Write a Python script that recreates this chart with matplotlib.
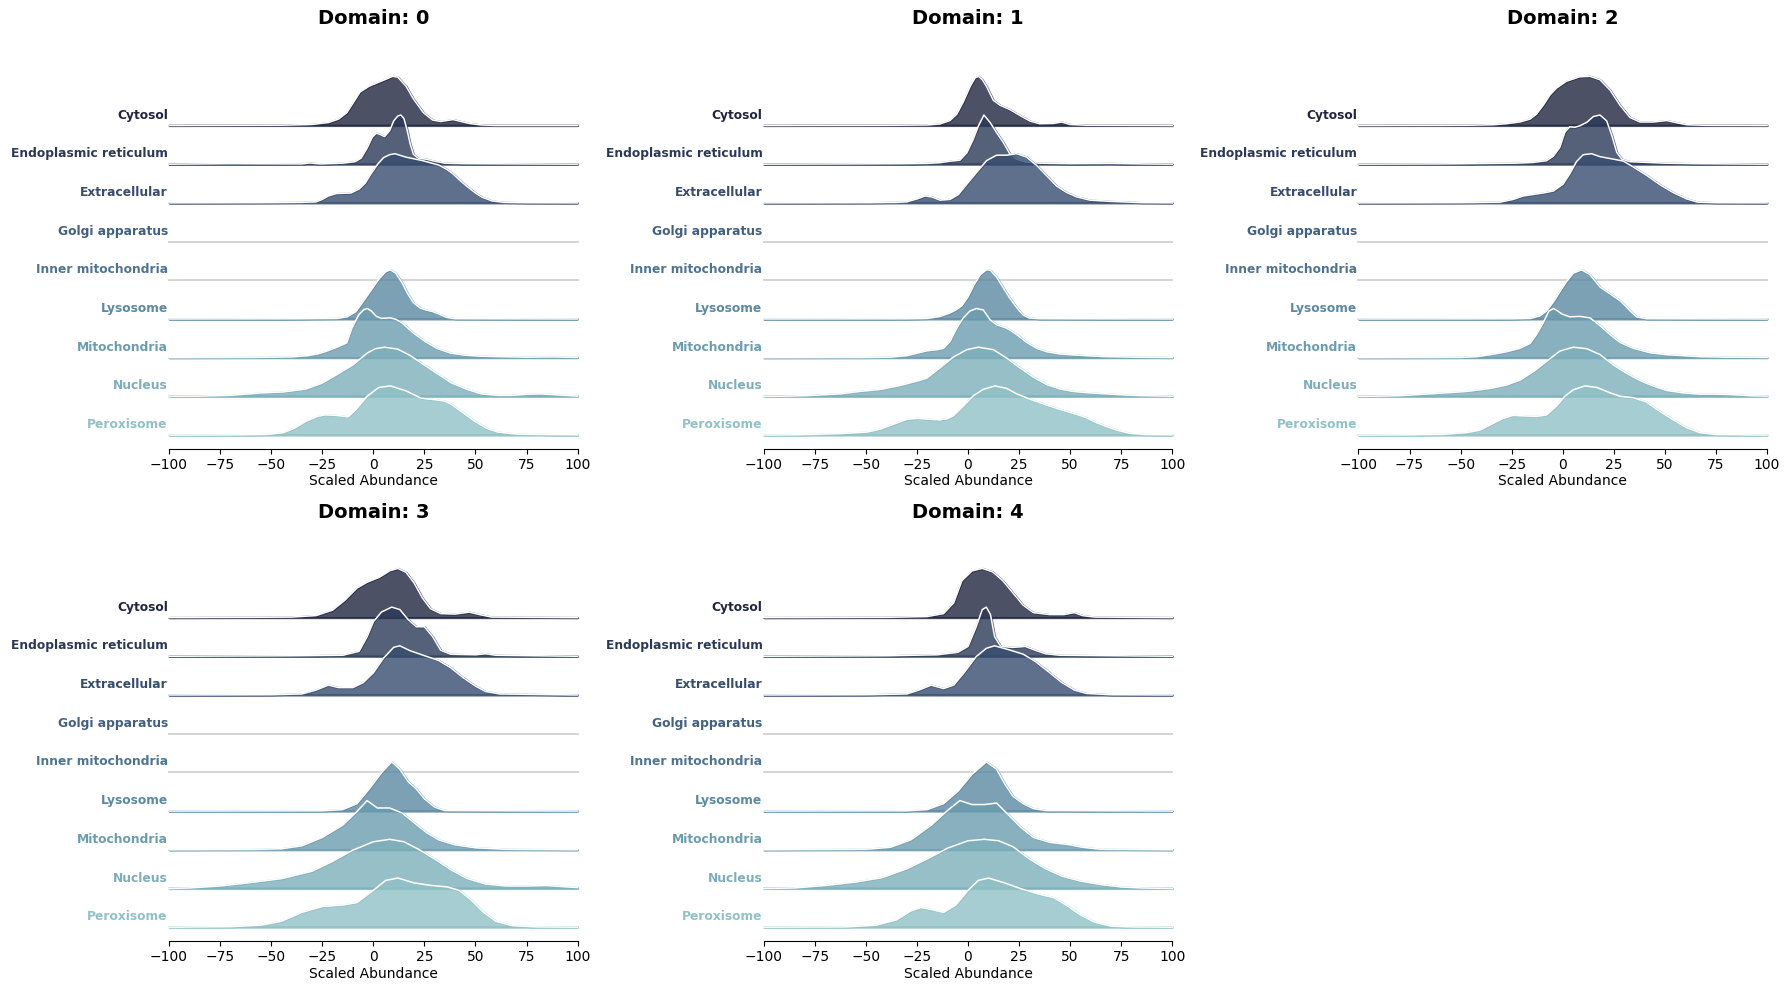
import matplotlib
matplotlib.use("Agg")
import matplotlib.pyplot as plt
import numpy as np
import seaborn as sns

# compartments, top to bottom
compartments = ["Cytosol", "Endoplasmic reticulum", "Extracellular", "Golgi apparatus",
                "Inner mitochondria", "Lysosome", "Mitochondria", "Nucleus", "Peroxisome"]
xticks = [-100, -75, -50, -25, 0, 25, 50, 75, 100]

# density curves: (scaled abundance, density relative to ridge max)
# Golgi apparatus and Inner mitochondria have no values in any domain

# Domain 0
d0_cytosol = [(-100, 0), (-45, 0.005), (-30, 0.02), (-22, 0.06), (-17, 0.13), (-13, 0.26), (-10, 0.45),
              (-6.5, 0.68), (-2, 0.8), (1.5, 0.86), (5, 0.92), (9.5, 1.0), (12, 0.98), (16, 0.8),
              (19.6, 0.54), (24.5, 0.26), (29, 0.11), (33, 0.08), (36, 0.1), (39, 0.12), (43, 0.08),
              (47, 0.04), (53, 0.01), (60, 0), (100, 0)]
d0_er = [(-100, 0), (-70, 0.01), (-35, 0.005), (-31, 0.025), (-26, 0.005), (-15, 0.02), (-9, 0.05),
         (-6, 0.12), (-3, 0.33), (-0.5, 0.55), (1.5, 0.63), (3.5, 0.6), (5.5, 0.56), (8, 0.68),
         (10, 0.88), (12, 0.98), (13.5, 1.0), (15, 0.93), (16.5, 0.7), (18, 0.42), (19.6, 0.2),
         (22, 0.12), (26, 0.1), (30, 0.06), (35, 0.02), (45, 0.01), (100, 0)]
d0_extra = [(-100, 0), (-50, 0.005), (-35, 0.01), (-28, 0.02), (-25, 0.07), (-22, 0.14), (-18, 0.19),
            (-11, 0.2), (-7, 0.28), (-4, 0.4), (-1, 0.6), (2, 0.78), (5, 0.92), (8, 0.98), (10.6, 1.0),
            (16, 0.93), (24, 0.86), (32, 0.77), (36, 0.68), (39, 0.59), (42, 0.47), (46, 0.33),
            (50, 0.2), (53, 0.12), (58, 0.04), (64, 0.01), (75, 0.003), (100, 0)]
d0_lyso = [(-100, 0), (-40, 0.003), (-18, 0.01), (-13, 0.04), (-8.5, 0.15), (-3, 0.47), (2.7, 0.81),
           (6, 0.96), (8.4, 1.0), (11, 0.93), (14, 0.74), (17, 0.5), (19.6, 0.33), (23, 0.22),
           (26, 0.18), (29, 0.15), (32, 0.1), (36, 0.03), (40, 0.005), (100, 0)]
d0_mito = [(-100, 0), (-60, 0.005), (-40, 0.015), (-32, 0.04), (-27, 0.08), (-23.6, 0.12), (-18, 0.21),
           (-13, 0.3), (-10.5, 0.6), (-7, 0.88), (-4.5, 0.98), (-2.9, 1.0), (-1, 0.95), (1.5, 0.84),
           (4, 0.8), (8.4, 0.81), (11, 0.78), (14, 0.71), (19.6, 0.5), (25.3, 0.33), (31, 0.19),
           (38, 0.09), (45, 0.05), (52, 0.03), (62, 0.02), (75, 0.01), (88, 0.015), (100, 0.005)]
d0_nucleus = [(-100, 0), (-85, 0.005), (-70, 0.02), (-55, 0.07), (-44, 0.09), (-33, 0.15), (-25, 0.27),
              (-18, 0.44), (-10, 0.64), (-3, 0.88), (1, 0.97), (5.5, 1.0), (12, 0.96), (17.7, 0.84),
              (23.4, 0.68), (31, 0.47), (38.4, 0.27), (46, 0.14), (53, 0.05), (61, 0.02), (68, 0.02),
              (76, 0.045), (82, 0.05), (90, 0.03), (100, 0.005)]
d0_perox = [(-100, 0), (-70, 0.003), (-55, 0.01), (-50, 0.02), (-44, 0.05), (-38.6, 0.14), (-33, 0.28),
            (-27.3, 0.38), (-23.6, 0.41), (-18, 0.4), (-12.3, 0.37), (-8.5, 0.52), (-3, 0.79),
            (2.7, 0.97), (8.4, 1.0), (16, 0.9), (23.4, 0.75), (30, 0.72), (35, 0.69), (38.4, 0.62),
            (44, 0.45), (49.7, 0.28), (55.3, 0.14), (61, 0.06), (70, 0.02), (87, 0.01), (100, 0.005)]

# Domain 1
d1_cytosol = [(-100, 0), (-40, 0.003), (-20, 0.01), (-13.7, 0.03), (-8.8, 0.1), (-5.5, 0.23), (-2.3, 0.48),
              (1, 0.79), (3.5, 0.97), (5.1, 1.0), (7, 0.93), (9.1, 0.79), (12.4, 0.51), (15.7, 0.41),
              (20.6, 0.32), (25.5, 0.2), (30.3, 0.09), (35, 0.035), (41.8, 0.04), (45.8, 0.07),
              (49.9, 0.02), (58, 0.005), (100, 0)]
d1_er = [(-100, 0), (-60, 0.005), (-30, 0.01), (-20, 0.015), (-13.7, 0.03), (-8.8, 0.06), (-4, 0.08),
         (-0.6, 0.23), (2.6, 0.51), (5.1, 0.78), (7.8, 1.0), (10.8, 0.85), (14, 0.64), (17.3, 0.44),
         (20.6, 0.2), (23.8, 0.1), (28.7, 0.04), (35, 0.02), (50, 0.01), (70, 0.015), (85, 0.005), (100, 0)]
d1_extra = [(-100, 0), (-50, 0.003), (-35, 0.01), (-30, 0.02), (-25, 0.08), (-21, 0.14), (-17.8, 0.12),
            (-13.7, 0.055), (-8.8, 0.07), (-4.7, 0.17), (-0.6, 0.38), (4.2, 0.62), (9.1, 0.86), (14, 0.97),
            (19, 0.97), (23.8, 1.0), (28.7, 0.93), (33.6, 0.76), (38.5, 0.55), (43.4, 0.34), (48.3, 0.21),
            (53.2, 0.12), (59.7, 0.055), (69.5, 0.03), (76, 0.02), (85, 0.005), (100, 0)]
d1_lyso = [(-100, 0), (-30, 0.003), (-20, 0.01), (-13.7, 0.05), (-9, 0.12), (-6, 0.18), (-3, 0.27),
           (0, 0.45), (3, 0.7), (6, 0.9), (9, 1.0), (11, 0.99), (14, 0.85), (17, 0.65), (20, 0.45),
           (22.2, 0.32), (25, 0.17), (27, 0.08), (30, 0.02), (35, 0.005), (100, 0)]
d1_mito = [(-100, 0), (-50, 0.003), (-38, 0.01), (-30, 0.04), (-25, 0.09), (-20, 0.14), (-15.3, 0.16),
           (-12, 0.19), (-8.8, 0.33), (-5.5, 0.6), (-2.3, 0.81), (1, 0.95), (4.2, 1.0), (7.5, 0.97),
           (10.8, 0.77), (14, 0.67), (18.9, 0.6), (23.8, 0.47), (28.7, 0.31), (33.6, 0.19), (38.5, 0.12),
           (45, 0.075), (51.5, 0.055), (60, 0.035), (68, 0.02), (85, 0.008), (100, 0.003)]
d1_nucleus = [(-100, 0), (-90, 0.003), (-79, 0.015), (-62.6, 0.05), (-53, 0.1), (-43, 0.14), (-33.3, 0.22),
              (-25, 0.31), (-20.2, 0.37), (-13.7, 0.58), (-7.2, 0.8), (-0.6, 0.95), (5.1, 1.0), (12.4, 0.95),
              (18.9, 0.78), (25.4, 0.58), (32, 0.39), (38.5, 0.24), (45, 0.15), (51.5, 0.1), (59.7, 0.07),
              (68, 0.05), (76, 0.03), (84, 0.015), (100, 0.003)]
d1_perox = [(-100, 0), (-85, 0.005), (-79, 0.01), (-62.6, 0.03), (-49.6, 0.06), (-43, 0.12), (-36.5, 0.22),
            (-30, 0.32), (-25, 0.34), (-18.6, 0.32), (-13.7, 0.31), (-10.4, 0.33), (-7.2, 0.39), (-2.3, 0.59),
            (2.6, 0.8), (7.5, 0.93), (13.2, 1.0), (18.9, 0.95), (23.8, 0.84), (30.3, 0.73), (38.5, 0.61),
            (46.7, 0.5), (53.2, 0.42), (58, 0.35), (63, 0.25), (68, 0.17), (72.8, 0.1), (79.3, 0.035),
            (87, 0.01), (100, 0.005)]

# Domain 2
d2_cytosol = [(-100, 0), (-60, 0.002), (-45, 0.005), (-34, 0.015), (-27.6, 0.035), (-21, 0.07), (-16, 0.13),
              (-12.9, 0.23), (-9.6, 0.41), (-6.3, 0.62), (-3.1, 0.76), (1.8, 0.9), (8.3, 0.99), (13.3, 1.0),
              (18.2, 0.93), (23.1, 0.72), (28, 0.41), (32.9, 0.16), (37.8, 0.07), (44.3, 0.07), (50.8, 0.1),
              (55.7, 0.055), (60.6, 0.015), (70, 0.003), (100, 0)]
d2_er = [(-100, 0), (-60, 0.005), (-47, 0.01), (-22.7, 0.02), (-14.5, 0.035), (-8, 0.07), (-4.7, 0.16),
         (-1.5, 0.34), (1, 0.65), (3.4, 0.76), (5.9, 0.75), (8.3, 0.78), (11.7, 0.85), (15, 0.97),
         (18.2, 1.0), (21.5, 0.88), (24, 0.58), (26.4, 0.24), (28.9, 0.1), (33, 0.05), (50, 0.02),
         (65, 0.01), (100, 0)]
d2_extra = [(-100, 0), (-60, 0.003), (-47, 0.005), (-30.8, 0.014), (-24.3, 0.07), (-19.4, 0.14),
            (-14.5, 0.17), (-9.6, 0.2), (-4.7, 0.24), (0.1, 0.38), (3.4, 0.59), (6.7, 0.84), (10, 0.98),
            (14.1, 1.0), (18.2, 0.94), (24.7, 0.89), (29.6, 0.85), (34.5, 0.73), (41, 0.56), (47.5, 0.37),
            (54, 0.21), (60.6, 0.08), (66, 0.015), (75, 0.003), (100, 0)]
d2_lyso = [(-100, 0), (-25, 0.003), (-16, 0.01), (-11.3, 0.06), (-8, 0.16), (-4.7, 0.34), (-1.5, 0.55),
           (1.8, 0.76), (5.1, 0.93), (9.2, 1.0), (13.3, 0.9), (18.2, 0.65), (23.1, 0.51), (28, 0.37),
           (30.5, 0.27), (33, 0.16), (36.2, 0.04), (41, 0.005), (100, 0)]
d2_mito = [(-100, 0), (-60, 0.003), (-50, 0.005), (-42, 0.02), (-34, 0.07), (-27.6, 0.12), (-21, 0.19),
           (-16, 0.29), (-12.9, 0.47), (-9.6, 0.71), (-6.8, 0.95), (-4.5, 1.0), (-2.5, 0.95), (-0.5, 0.89),
           (3.4, 0.83), (8.3, 0.84), (13.3, 0.81), (18.2, 0.65), (23.1, 0.47), (28, 0.31), (34.5, 0.19),
           (42.7, 0.1), (50.8, 0.06), (59, 0.04), (67, 0.02), (80, 0.01), (100, 0.005)]
d2_nucleus = [(-100, 0), (-90, 0.004), (-79.7, 0.014), (-63.4, 0.055), (-47, 0.1), (-35.6, 0.16),
              (-27.6, 0.23), (-21, 0.33), (-14.5, 0.5), (-8, 0.71), (-1.5, 0.92), (5.1, 1.0), (11.7, 0.97),
              (18.2, 0.85), (24.7, 0.64), (31.2, 0.47), (37.8, 0.32), (44.3, 0.21), (50.8, 0.12), (59, 0.07),
              (67, 0.045), (75, 0.045), (83, 0.035), (92, 0.012), (100, 0.004)]
d2_perox = [(-100, 0), (-75, 0.004), (-58.5, 0.014), (-47, 0.05), (-40.6, 0.1), (-34, 0.24), (-29.2, 0.34),
            (-24.3, 0.4), (-19.4, 0.39), (-12.9, 0.38), (-8, 0.41), (-3.1, 0.59), (1, 0.79), (5.1, 0.92),
            (10.8, 1.0), (16.6, 0.97), (23.1, 0.86), (28, 0.79), (34.5, 0.76), (41, 0.67), (47.5, 0.48),
            (54, 0.31), (60.6, 0.15), (67, 0.05), (75, 0.012), (90, 0.003), (100, 0)]

# Domain 3
d3_cytosol = [(-100, 0), (-60, 0.005), (-40, 0.01), (-28, 0.04), (-20, 0.15), (-14, 0.35), (-8, 0.6),
              (-3, 0.72), (3, 0.82), (8, 0.95), (12, 1.0), (16, 0.92), (20, 0.7), (24, 0.4), (28, 0.18),
              (33, 0.08), (40, 0.07), (47, 0.11), (52, 0.06), (58, 0.01), (100, 0)]
d3_er = [(-100, 0), (-40, 0.01), (-15, 0.02), (-7, 0.1), (-3, 0.4), (0, 0.7), (4, 0.9), (9, 1.0),
         (13, 0.95), (17, 0.75), (21, 0.6), (25, 0.6), (29, 0.4), (33, 0.12), (38, 0.04), (50, 0.03),
         (55, 0.05), (60, 0.02), (100, 0)]
d3_extra = [(-100, 0), (-50, 0.005), (-35, 0.02), (-28, 0.1), (-22, 0.2), (-17, 0.15), (-10, 0.15),
            (-5, 0.25), (0, 0.45), (5, 0.75), (10, 0.97), (13, 1.0), (18, 0.9), (25, 0.8), (32, 0.7),
            (38, 0.55), (44, 0.35), (50, 0.18), (55, 0.07), (62, 0.02), (100, 0)]
d3_lyso = [(-100, 0), (-25, 0.005), (-15, 0.03), (-8, 0.15), (-2, 0.45), (4, 0.78), (9, 1.0), (13, 0.85),
           (17, 0.6), (21, 0.45), (25, 0.25), (30, 0.08), (35, 0.01), (100, 0)]
d3_mito = [(-100, 0), (-60, 0.005), (-45, 0.02), (-35, 0.08), (-25, 0.25), (-15, 0.5), (-8, 0.78),
           (-3, 1.0), (2, 0.85), (8, 0.85), (14, 0.75), (20, 0.55), (26, 0.35), (32, 0.2), (40, 0.1),
           (50, 0.04), (65, 0.01), (100, 0)]
d3_nucleus = [(-100, 0), (-90, 0.01), (-75, 0.05), (-60, 0.12), (-45, 0.2), (-30, 0.35), (-20, 0.55),
              (-10, 0.78), (0, 0.95), (8, 1.0), (15, 0.95), (22, 0.8), (30, 0.6), (38, 0.38), (46, 0.2),
              (55, 0.09), (65, 0.05), (75, 0.05), (85, 0.06), (95, 0.03), (100, 0.02)]
d3_perox = [(-100, 0), (-70, 0.01), (-55, 0.04), (-45, 0.12), (-35, 0.3), (-25, 0.42), (-15, 0.45),
            (-8, 0.5), (0, 0.75), (6, 0.95), (12, 1.0), (20, 0.9), (28, 0.85), (36, 0.82), (42, 0.75),
            (48, 0.55), (54, 0.3), (60, 0.12), (68, 0.03), (80, 0.005), (100, 0)]

# Domain 4
d4_cytosol = [(-100, 0), (-40, 0.005), (-20, 0.02), (-12, 0.08), (-7, 0.3), (-3, 0.75), (2, 0.95),
              (7, 1.0), (12, 0.93), (17, 0.75), (22, 0.5), (27, 0.25), (32, 0.1), (40, 0.06), (47, 0.06),
              (52, 0.1), (56, 0.04), (62, 0.01), (100, 0)]
d4_er = [(-100, 0), (-40, 0.01), (-15, 0.03), (-5, 0.08), (0, 0.2), (4, 0.6), (7, 0.95), (9, 1.0),
         (11, 0.85), (13, 0.4), (16, 0.2), (22, 0.18), (28, 0.2), (33, 0.12), (38, 0.05), (45, 0.02), (100, 0)]
d4_extra = [(-100, 0), (-50, 0.005), (-30, 0.02), (-24, 0.1), (-18, 0.2), (-12, 0.13), (-7, 0.2),
            (-2, 0.45), (4, 0.78), (9, 0.95), (13, 1.0), (20, 0.92), (27, 0.83), (33, 0.68), (40, 0.45),
            (46, 0.25), (52, 0.1), (58, 0.03), (70, 0.005), (100, 0)]
d4_lyso = [(-100, 0), (-30, 0.005), (-20, 0.03), (-12, 0.15), (-5, 0.4), (2, 0.75), (9, 1.0), (14, 0.85),
           (18, 0.55), (22, 0.3), (27, 0.15), (32, 0.05), (38, 0.01), (100, 0)]
d4_mito = [(-100, 0), (-50, 0.01), (-38, 0.05), (-28, 0.2), (-18, 0.5), (-10, 0.8), (-4, 1.0), (2, 0.92),
           (8, 0.92), (14, 0.95), (20, 0.7), (26, 0.45), (32, 0.25), (40, 0.15), (50, 0.1), (56, 0.05),
           (65, 0.01), (100, 0)]
d4_nucleus = [(-100, 0), (-85, 0.01), (-70, 0.06), (-55, 0.13), (-42, 0.22), (-30, 0.4), (-20, 0.6),
              (-10, 0.82), (0, 0.97), (8, 1.0), (15, 0.97), (22, 0.85), (30, 0.6), (38, 0.4), (46, 0.25),
              (55, 0.15), (65, 0.08), (75, 0.03), (85, 0.01), (100, 0)]
d4_perox = [(-100, 0), (-60, 0.005), (-45, 0.04), (-35, 0.15), (-28, 0.33), (-23, 0.4), (-18, 0.36),
            (-12, 0.3), (-6, 0.45), (0, 0.75), (5, 0.95), (10, 1.0), (18, 0.9), (26, 0.78), (34, 0.68),
            (42, 0.6), (48, 0.45), (55, 0.25), (62, 0.1), (70, 0.02), (80, 0.005), (100, 0)]

no_data = []

domains = [
    [d0_cytosol, d0_er, d0_extra, no_data, no_data, d0_lyso, d0_mito, d0_nucleus, d0_perox],
    [d1_cytosol, d1_er, d1_extra, no_data, no_data, d1_lyso, d1_mito, d1_nucleus, d1_perox],
    [d2_cytosol, d2_er, d2_extra, no_data, no_data, d2_lyso, d2_mito, d2_nucleus, d2_perox],
    [d3_cytosol, d3_er, d3_extra, no_data, no_data, d3_lyso, d3_mito, d3_nucleus, d3_perox],
    [d4_cytosol, d4_er, d4_extra, no_data, no_data, d4_lyso, d4_mito, d4_nucleus, d4_perox],
]

pal = sns.cubehelix_palette(len(compartments), rot=-.25, light=.7, reverse=True)

W, H = 1790, 990
fig = plt.figure(figsize=(W / 100, H / 100), dpi=100)

row_px = 38.7          # pixels between ridge baselines
ridge_h = 1.27         # ridge peak height in row units
ymin, ymax = -0.35, 9.3
col_left = [169, 763.7, 1358.5]
row_bottom = [448.6, 940.7]
ax_w = 408.6
ax_h = (ymax - ymin) * row_px
title_y = [18, 512]

for d, ridges in enumerate(domains):
    r, c = divmod(d, 3)
    ax = fig.add_axes([col_left[c] / W, 1 - row_bottom[r] / H, ax_w / W, ax_h / H])
    ax.set_xlim(-100, 100)
    ax.set_ylim(ymin, ymax)
    n = len(compartments)
    for i, (name, pts) in enumerate(zip(compartments, ridges)):
        base = n - 1 - i
        z = 2 + 3 * i
        ax.plot([-100, 100], [base, base], color="0.82", lw=1.3, zorder=z, clip_on=False)
        if pts:
            xs = np.array([p[0] for p in pts])
            ys = np.array([p[1] for p in pts]) * ridge_h + base
            ax.fill_between(xs, base, ys, facecolor=pal[i], edgecolor=pal[i], alpha=0.8,
                            lw=1.6, zorder=z + 1, clip_on=False)
            ax.plot(xs, ys, color="w", lw=1.1, zorder=z + 2, clip_on=False)
        ax.text(-100.6, base + 0.27, name, ha="right", va="center", fontsize=8.8,
                fontweight="bold", color=pal[i])
    ax.set_yticks([])
    ax.set_xticks(xticks)
    for s in ["left", "right", "top"]:
        ax.spines[s].set_visible(False)
    ax.set_xlabel("Scaled Abundance", labelpad=1.5)
    ax.set_facecolor((0, 0, 0, 0))
    fig.text((col_left[c] + ax_w / 2) / W, 1 - title_y[r] / H, f"Domain: {d}",
             ha="center", va="center", fontsize=14, fontweight="bold")

fig.savefig("out.png", dpi=100)
